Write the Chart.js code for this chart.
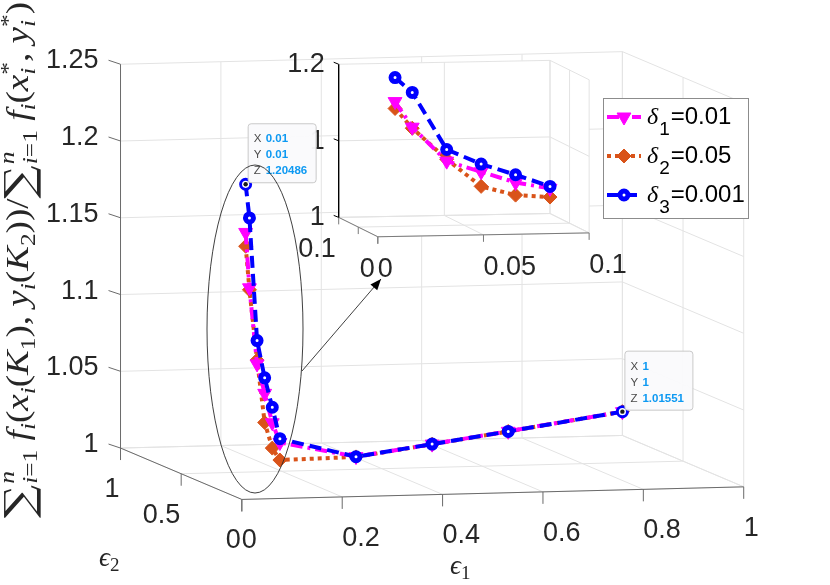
<!DOCTYPE html>
<html>
<head>
<meta charset="utf-8">
<script src="https://cdn.jsdelivr.net/npm/chart.js@4.4.1/dist/chart.umd.min.js"></script>
<style>
html, body { margin: 0; padding: 0; background: #fff; }
canvas { display: block; }
</style>
</head>
<body>
<canvas id="chart" width="830" height="585"></canvas>
<script>
// data: epsilon_1 = epsilon_2 along the curve
let epsVals = [0.01, 0.02, 0.04, 0.06, 0.08, 0.1, 0.3, 0.5, 0.7, 1];
let delta1 = [1.1735, 1.137, 1.0866, 1.0666, 1.0466, 1.0329, 1.0154, 1.0152, 1.0152, 1.0155];
let delta2 = [1.1645, 1.1357, 1.0891, 1.0476, 1.0301, 1.0215, 1.0152, 1.0151, 1.0151, 1.0155];
let delta3 = [1.20486, 1.1825, 1.1018, 1.0767, 1.0567, 1.0354, 1.0153, 1.0152, 1.0151, 1.01551];

let legendSubs = ["1", "2", "3"];
let legendVals = ["=0.01", "=0.05", "=0.001"];

// ticks
let mainXTicks = [0, 0.2, 0.4, 0.6, 0.8, 1];
let mainXLabels = ["0", "0.2", "0.4", "0.6", "0.8", "1"];
let mainYTicks = [0, 0.5, 1];
let mainYLabels = ["0", "0.5", "1"];
let mainZTicks = [1, 1.05, 1.1, 1.15, 1.2, 1.25];
let mainZLabels = ["1", "1.05", "1.1", "1.15", "1.2", "1.25"];
let insetXTicks = [0, 0.05, 0.1];
let insetXLabels = ["0", "0.05", "0.1"];
let insetYTicks = [0, 0.05, 0.1];
let insetYLabels = ["0", "", "0.1"];
let insetZTicks = [1, 1.1, 1.2];
let insetZLabels = ["1", "1", "1.2"];

// data tips: index into epsVals on the delta3 curve
let tipIdx = [0, 9];
let tipText = [["0.01", "0.01", "1.20486"], ["1", "1", "1.01551"]];

const SANS = '"Liberation Sans", Arial, Helvetica, sans-serif';
const SERIF = '"Liberation Serif", "DejaVu Serif", "Times New Roman", serif';
const GRID = "#e3e3e3";
const AXIS = "#6a6a6a";
const TXT = "#262626";

// axes placement (orthographic view): origin, unit vectors
const MAIN = { o: [238, 506], ex: [513, -13], ey: [-124, -53], ez: -1584, z0: 1,
    xr: [0, 1], yr: [0, 1], zr: [1, 1.25] };
const INSET = { o: [377, 235], ex: [2160, -40], ey: [-400, -200], ez: -790, z0: 1,
    xr: [0, 0.1], yr: [0, 0.1], zr: [1, 1.2] };

function proj(ax, x, y, z) {
    return {
        x: ax.o[0] + ax.ex[0] * x + ax.ey[0] * y,
        y: ax.o[1] + ax.ex[1] * x + ax.ey[1] * y + ax.ez * (z - ax.z0)
    };
}

function curve(ax, vals) {
    let pts = [];
    for (let i = 0; i < epsVals.length; i++) {
        if (epsVals[i] <= ax.xr[1]) {
            pts.push(proj(ax, epsVals[i], epsVals[i], vals[i]));
        }
    }
    return pts;
}

function blueSet(data) {
    return { data: data, showLine: true, borderColor: "#0000ff", borderWidth: 4, borderDash: [12, 6],
        pointStyle: "circle", pointRadius: 4, pointBorderWidth: 5,
        pointBackgroundColor: "#ffffff", pointBorderColor: "#0000ff", clip: false };
}
function magentaSet(data) {
    return { data: data, showLine: true, borderColor: "#ff00ff", borderWidth: 4, borderDash: [12, 5, 3, 5],
        pointStyle: "triangle", pointRotation: 180, pointRadius: 8, pointBorderWidth: 1,
        pointBackgroundColor: "#ff00ff", pointBorderColor: "#ff00ff", clip: false };
}
function orangeSet(data) {
    return { data: data, showLine: true, borderColor: "#d95319", borderWidth: 4, borderDash: [4, 4],
        pointStyle: "rectRot", pointRadius: 7, pointBorderWidth: 1,
        pointBackgroundColor: "#d95319", pointBorderColor: "#d95319", clip: false };
}

// rich text: segments {t, s, it, fam, dy} or {stack: [segs, segs]}
function segFont(g) {
    return (g.it ? "italic " : "") + g.s + "px " + (g.fam || SERIF);
}
function richWidth(ctx, segs) {
    let w = 0;
    segs.forEach(function (g) {
        if (g.stack) {
            w += Math.max(richWidth(ctx, g.stack[0]), richWidth(ctx, g.stack[1]));
        } else {
            ctx.font = segFont(g);
            w += ctx.measureText(g.t).width + (g.pad || 0);
        }
    });
    return w;
}
function drawRich(ctx, segs, x, y) {
    let cx = x;
    segs.forEach(function (g) {
        if (g.stack) {
            drawRich(ctx, g.stack[0], cx, y);
            drawRich(ctx, g.stack[1], cx, y);
            cx += Math.max(richWidth(ctx, g.stack[0]), richWidth(ctx, g.stack[1]));
        } else {
            ctx.font = segFont(g);
            ctx.fillText(g.t, cx, y + (g.dy || 0));
            cx += ctx.measureText(g.t).width + (g.pad || 0);
        }
    });
    return cx - x;
}

const S = 32, SS = 22;
function R(t) { return { t: t, s: S }; }
function I(t) { return { t: t, s: S, it: true }; }
function sb(t, it) { return { t: t, s: SS, it: it, dy: 7 }; }
function sp(t, it) { return { t: t, s: SS, it: it, dy: -13 }; }
function sum() {
    return [{ t: "\u2211", s: 40, fam: '"DejaVu Serif", serif', dy: 5, pad: 1 },
        { stack: [[{ t: "n", s: SS, it: true, dy: -14 }], [{ t: "i", s: SS, it: true, dy: 9 }, { t: "=1", s: SS, dy: 9 }]] }];
}
let zLabel = [].concat(sum(), [I(" f"), sb("i", true), R("("), I("x"), sb("i", true), R("("), I("K"), sb("1"),
    R("),"), R(" "), I("y"), sb("i", true), R("("), I("K"), sb("2"), R("))"), R("/")],
    sum(), [I(" f"), sb("i", true), R("("), I("x"), { stack: [[sp("*")], [sb("i", true)]] }, R(", "),
    I("y"), { stack: [[sp("*")], [sb("i", true)]] }, R(")")]);

function marker(ctx, style, x, y, r, fill, stroke, bw) {
    ctx.save();
    ctx.setLineDash([]);
    ctx.fillStyle = fill;
    ctx.strokeStyle = stroke;
    ctx.lineWidth = bw;
    ctx.beginPath();
    if (style === "circle") {
        ctx.arc(x, y, r, 0, 2 * Math.PI);
    } else if (style === "triangle") {
        ctx.moveTo(x - r * 0.866, y - r * 0.5);
        ctx.lineTo(x + r * 0.866, y - r * 0.5);
        ctx.lineTo(x, y + r);
        ctx.closePath();
    } else {
        ctx.moveTo(x, y - r);
        ctx.lineTo(x + r, y);
        ctx.lineTo(x, y + r);
        ctx.lineTo(x - r, y);
        ctx.closePath();
    }
    ctx.fill();
    if (bw > 0) ctx.stroke();
    ctx.restore();
}

function seg(ctx, a, b) {
    ctx.beginPath();
    ctx.moveTo(a[0], a[1]);
    ctx.lineTo(b[0], b[1]);
    ctx.stroke();
}

const boxPlugin = {
    id: "box3d",
    beforeDatasetsDraw(chart) {
        const ctx = chart.ctx;
        const sx = chart.scales.x, sy = chart.scales.y;
        function P(ax, x, y, z) {
            const p = proj(ax, x, y, z);
            return [sx.getPixelForValue(p.x), sy.getPixelForValue(p.y)];
        }
        function walls(ax, xs, ys, zs) {
            const xr = ax.xr, yr = ax.yr, zr = ax.zr;
            ctx.strokeStyle = GRID;
            ctx.lineWidth = 1;
            xs.forEach(x => { seg(ctx, P(ax, x, yr[0], zr[0]), P(ax, x, yr[1], zr[0])); });
            ys.forEach(y => { seg(ctx, P(ax, xr[0], y, zr[0]), P(ax, xr[1], y, zr[0])); });
            xs.forEach(x => { seg(ctx, P(ax, x, yr[1], zr[0]), P(ax, x, yr[1], zr[1])); });
            zs.forEach(z => { seg(ctx, P(ax, xr[0], yr[1], z), P(ax, xr[1], yr[1], z)); });
            ys.forEach(y => { seg(ctx, P(ax, xr[1], y, zr[0]), P(ax, xr[1], y, zr[1])); });
            zs.forEach(z => { seg(ctx, P(ax, xr[1], yr[0], z), P(ax, xr[1], yr[1], z)); });
        }
        ctx.save();

        // main axes
        walls(MAIN, mainXTicks, mainYTicks, mainZTicks);

        // inset background
        const A = INSET;
        ctx.fillStyle = "#ffffff";
        ctx.beginPath();
        [P(A, 0, A.yr[1], A.zr[1]), P(A, A.xr[1], A.yr[1], A.zr[1]), P(A, A.xr[1], 0, A.zr[1]),
            P(A, A.xr[1], 0, A.zr[0]), P(A, 0, 0, A.zr[0]), P(A, 0, A.yr[1], A.zr[0])].forEach((p, i) => {
            if (i === 0) ctx.moveTo(p[0], p[1]); else ctx.lineTo(p[0], p[1]);
        });
        ctx.closePath();
        ctx.fill();
        walls(INSET, insetXTicks, insetYTicks, insetZTicks);

        // axis lines, ticks and tick labels
        function axes(ax, o) {
            const xr = ax.xr, yr = ax.yr, zr = ax.zr;
            ctx.lineWidth = 1;
            ctx.strokeStyle = o.xyColor;
            seg(ctx, P(ax, xr[0], 0, zr[0]), P(ax, xr[1], 0, zr[0]));
            seg(ctx, P(ax, 0, yr[0], zr[0]), P(ax, 0, yr[1], zr[0]));
            o.xt.forEach(x => { const p = P(ax, x, 0, zr[0]); seg(ctx, p, [p[0], p[1] + o.tl]); });
            o.yt.forEach(y => { const p = P(ax, 0, y, zr[0]); seg(ctx, p, [p[0], p[1] + o.tl]); });
            ctx.strokeStyle = o.zColor;
            ctx.lineWidth = o.zWidth;
            seg(ctx, P(ax, 0, yr[1], zr[0]), P(ax, 0, yr[1], zr[1]));
            ctx.lineWidth = 1;
            o.zt.forEach(z => { const p = P(ax, 0, yr[1], z); seg(ctx, p, [p[0] + o.zd[0], p[1] + o.zd[1]]); });

            ctx.fillStyle = TXT;
            ctx.font = "27px " + SANS;
            ctx.textBaseline = "alphabetic";
            ctx.textAlign = "left";
            o.xt.forEach((x, i) => { const p = P(ax, x, 0, zr[0]); ctx.fillText(o.xl[i], p[0], p[1] + o.xb); });
            ctx.textAlign = "right";
            o.yt.forEach((y, i) => { const p = P(ax, 0, y, zr[0]); ctx.fillText(o.yl[i], p[0] - o.yg, p[1] + o.xb); });
            o.zt.forEach((z, i) => { const p = P(ax, 0, yr[1], z); ctx.fillText(o.zl[i], p[0] - o.zg, p[1] + o.zb); });
        }
        axes(MAIN, { xyColor: AXIS, zColor: AXIS, zWidth: 1, tl: 12, zd: [-12, -4], xb: 49, yg: 1, zg: 22, zb: 4,
            xt: mainXTicks, yt: mainYTicks, zt: mainZTicks, xl: mainXLabels, yl: mainYLabels, zl: mainZLabels });
        axes(INSET, { xyColor: "#7a7a7a", zColor: "#000000", zWidth: 1.4, tl: 7, zd: [-5, -2], xb: 40, yg: 3, zg: 14, zb: 8,
            xt: insetXTicks, yt: insetYTicks, zt: insetZTicks, xl: insetXLabels, yl: insetYLabels, zl: insetZLabels });

        // axis titles
        ctx.textAlign = "left";
        ctx.fillStyle = TXT;
        drawRich(ctx, [{ t: "\u03f5", s: 27, it: true }, { t: "1", s: 19, dy: 5 }], 450, 574);
        drawRich(ctx, [{ t: "\u03f5", s: 27, it: true }, { t: "2", s: 19, dy: 5 }], 99, 566);
        const zw = richWidth(ctx, zLabel);
        ctx.save();
        ctx.translate(28, 518);
        ctx.rotate(-Math.PI / 2);
        ctx.scale(516 / zw, 1);
        drawRich(ctx, zLabel, 0, 0);
        ctx.restore();

        ctx.restore();
    },
    afterDatasetsDraw(chart) {
        const ctx = chart.ctx;
        const sx = chart.scales.x, sy = chart.scales.y;
        ctx.save();

        // data tips
        tipIdx.forEach((k, n) => {
            const p = proj(MAIN, epsVals[k], epsVals[k], delta3[k]);
            const px = sx.getPixelForValue(p.x), py = sy.getPixelForValue(p.y);
            const bx = px + 2, by = py - 61, bw = 68, bh = 59;
            ctx.fillStyle = "rgba(250,250,252,0.97)";
            ctx.strokeStyle = "#c9c9c9";
            ctx.lineWidth = 1;
            ctx.beginPath();
            ctx.roundRect(bx + 0.5, by + 0.5, bw, bh, 3);
            ctx.fill();
            ctx.stroke();
            const names = ["X", "Y", "Z"];
            names.forEach((nm, r) => {
                const ty = by + 19 + r * 16;
                ctx.textAlign = "left";
                ctx.font = "11.5px " + SANS;
                ctx.fillStyle = "#4a4a4a";
                ctx.fillText(nm, bx + 6, ty);
                ctx.font = "bold 11.5px " + SANS;
                ctx.fillStyle = "#0d99f2";
                ctx.fillText(tipText[n][r], bx + 18, ty);
            });
            ctx.fillStyle = "#ffffff";
            ctx.beginPath();
            ctx.arc(px, py, 3.6, 0, 2 * Math.PI);
            ctx.fill();
            ctx.fillStyle = "#1a1a1a";
            ctx.beginPath();
            ctx.arc(px, py, 2.2, 0, 2 * Math.PI);
            ctx.fill();
        });

        // zoom annotation: ellipse and arrow
        ctx.strokeStyle = "#2a2a2a";
        ctx.lineWidth = 0.9;
        ctx.beginPath();
        ctx.ellipse(255, 329, 48, 164, 0, 0, 2 * Math.PI);
        ctx.stroke();
        const a0 = [302, 371], a1 = [381, 279];
        seg(ctx, a0, a1);
        const ang = Math.atan2(a1[1] - a0[1], a1[0] - a0[0]);
        ctx.fillStyle = "#000";
        ctx.beginPath();
        ctx.moveTo(a1[0], a1[1]);
        ctx.lineTo(a1[0] - 11 * Math.cos(ang) + 4.5 * Math.sin(ang), a1[1] - 11 * Math.sin(ang) - 4.5 * Math.cos(ang));
        ctx.lineTo(a1[0] - 11 * Math.cos(ang) - 4.5 * Math.sin(ang), a1[1] - 11 * Math.sin(ang) + 4.5 * Math.cos(ang));
        ctx.closePath();
        ctx.fill();

        // legend
        const lx = 603, ly = 98, lw = 145, lh = 120;
        ctx.fillStyle = "#ffffff";
        ctx.fillRect(lx, ly, lw, lh);
        ctx.strokeStyle = "#8c8c8c";
        ctx.lineWidth = 1;
        ctx.strokeRect(lx + 0.5, ly + 0.5, lw, lh);
        const order = [1, 2, 0]; // magenta, orange, blue in the legend
        order.forEach((di, r) => {
            const d = chart.data.datasets[di];
            const y = 117 + r * 39;
            ctx.save();
            ctx.strokeStyle = d.borderColor;
            ctx.lineWidth = d.borderWidth;
            ctx.setLineDash(d.borderDash);
            seg(ctx, [607, y], [641, y]);
            ctx.restore();
            marker(ctx, d.pointStyle, 624, y, d.pointRadius, d.pointBackgroundColor, d.pointBorderColor, d.pointBorderWidth);
            ctx.fillStyle = "#000";
            ctx.textAlign = "left";
            drawRich(ctx, [{ t: "\u03b4", s: 24, it: true, pad: 1 }, { t: legendSubs[r], s: 19, fam: SANS, dy: 11, pad: 1 },
                { t: legendVals[r], s: 24, fam: SANS }], 647, y + 7);
        });

        ctx.restore();
    }
};

new Chart("chart", {
    type: "scatter",
    data: {
        datasets: [
            blueSet(curve(MAIN, delta3)),
            magentaSet(curve(MAIN, delta1)),
            orangeSet(curve(MAIN, delta2)),
            blueSet(curve(INSET, delta3)),
            magentaSet(curve(INSET, delta1)),
            orangeSet(curve(INSET, delta2))
        ]
    },
    options: {
        responsive: false,
        animation: false,
        events: [],
        layout: { padding: 0 },
        plugins: { legend: { display: false }, tooltip: { enabled: false } },
        scales: {
            x: { type: "linear", min: 0, max: 830, display: false },
            y: { type: "linear", min: 0, max: 585, reverse: true, display: false }
        }
    },
    plugins: [boxPlugin]
});
</script>
</body>
</html>
